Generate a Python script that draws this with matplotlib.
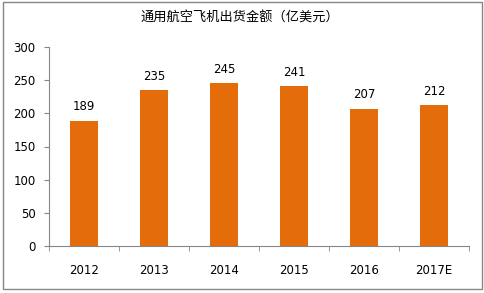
import matplotlib.pyplot as plt
from matplotlib.patches import Rectangle

plt.rcParams['font.family'] = ['DejaVu Sans', 'Noto Sans CJK SC']

years = ['2012', '2013', '2014', '2015', '2016', '2017E']
values = [189, 235, 245, 241, 207, 212]

bar_color = '#E46C0A'
grey = '#868686'

fig = plt.figure(figsize=(4.85, 2.93), dpi=100)
fig.patches.append(Rectangle((0.006, 0.013), 0.988, 0.98, transform=fig.transFigure,
                             fill=False, edgecolor=grey, linewidth=1.0))
ax = fig.add_axes([0.101, 0.160, 0.866, 0.680])

x = range(len(years))
bars = ax.bar(x, values, width=0.4, color=bar_color)
for xi, v in zip(x, values):
    ax.text(xi, v + 11, str(v), ha='center', va='bottom', fontsize=8.5)

ax.set_xlim(-0.5, len(years) - 0.5)
ax.set_ylim(0, 300)
ax.set_yticks(range(0, 301, 50))
ax.set_xticks(x)
ax.set_xticklabels(years, fontsize=8.5)
ax.set_xticks([i - 0.5 for i in range(len(years) + 1)], minor=True)
ax.tick_params(axis='x', which='major', length=0, pad=13)
ax.tick_params(axis='x', which='minor', length=3.6, color=grey, direction='out')
ax.tick_params(axis='y', length=3.6, color=grey, labelsize=8.5, pad=6)
ax.spines['top'].set_visible(False)
ax.spines['right'].set_visible(False)
ax.spines['left'].set_color(grey)
ax.spines['bottom'].set_color(grey)

fig.text(0.495, 0.937, '通用航空飞机出货金额（亿美元）', ha='center', va='center', fontsize=9.5,
         family=['Noto Sans CJK SC', 'DejaVu Sans'])

fig.savefig('out.png', dpi=100)
